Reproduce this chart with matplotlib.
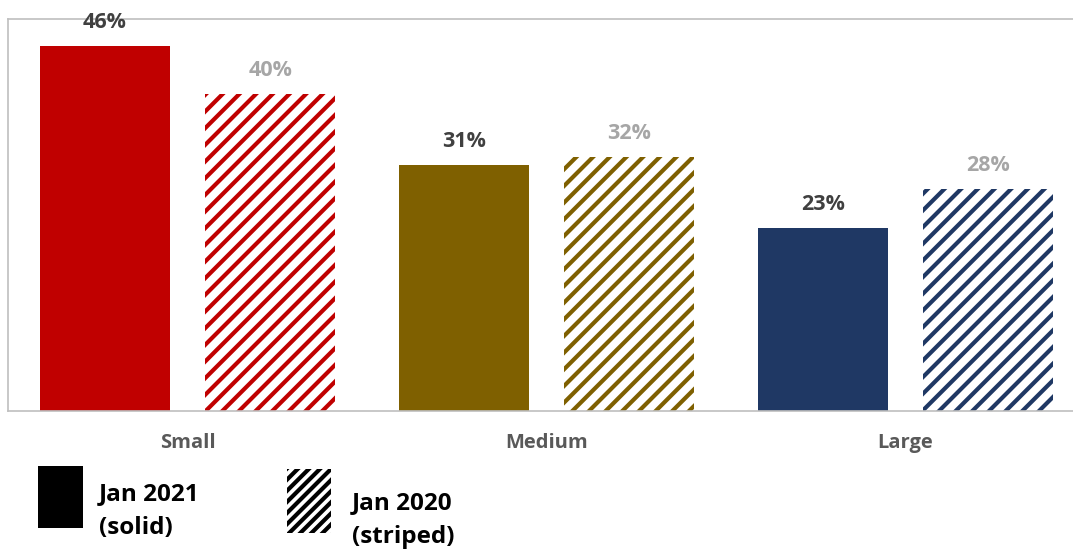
import matplotlib.pyplot as plt
import matplotlib.patches as mpatches
import numpy as np

plt.rcParams['font.family'] = ['Open Sans', 'DejaVu Sans']
plt.rcParams['hatch.linewidth'] = 3.0

# Share of companies by size, two survey waves
sizes = ["Small", "Medium", "Large"]
jan_2021 = [46, 31, 23]
jan_2020 = [40, 32, 28]
colors = ["#C00000", "#7F6000", "#1F3864"]

fig = plt.figure(figsize=(10.73, 5.5), dpi=100)
ax = fig.add_axes([8 / 1073, 139 / 550, 1077 / 1073, 392 / 550])

x = np.arange(len(sizes))
off = 0.23
w = 0.36

# solid bars = 2021
ax.bar(x - off, jan_2021, width=w, color=colors, linewidth=0)
# striped bars = 2020
for xi, v, c in zip(x, jan_2020, colors):
    ax.bar(xi + off, v, width=w, facecolor="white", edgecolor=c,
           hatch="//", linewidth=0)

for xi, v in zip(x, jan_2021):
    ax.annotate(f"{v}%", (xi - off, v), xytext=(0, 13), textcoords="offset points",
                ha="center", va="baseline", fontsize=15.5, fontweight="bold",
                color="#404040")
for xi, v in zip(x, jan_2020):
    ax.annotate(f"{v}%", (xi + off, v), xytext=(0, 13), textcoords="offset points",
                ha="center", va="baseline", fontsize=15.5, fontweight="bold",
                color="#A6A6A6")

ax.set_xlim(-0.5, 2.5)
ax.set_ylim(0, 49.4)
ax.set_yticks([])
ax.set_xticks(x)
ax.set_xticklabels(sizes, fontsize=14.5, fontweight="bold", color="#595959")
ax.tick_params(axis="x", length=0, pad=16)
for s in ax.spines.values():
    s.set_color("#BFBFBF")
    s.set_linewidth(1.2)

# legend swatches drawn in figure pixels
def px(xp, yp):
    return xp / 1073, 1 - yp / 550

fig.patches.append(mpatches.Rectangle(px(38, 528), 45 / 1073, 62 / 550,
                                      transform=fig.transFigure, facecolor="black",
                                      linewidth=0))
fig.patches.append(mpatches.Rectangle(px(287, 533), 44 / 1073, 64 / 550,
                                      transform=fig.transFigure, facecolor="white",
                                      edgecolor="black", hatch="///", linewidth=0))
fig.text(*px(99, 511), "Jan 2021\n(solid)", fontsize=17.5, fontweight="bold",
         va="center", ha="left", linespacing=1.6)
fig.text(*px(352, 520), "Jan 2020\n(striped)", fontsize=17.5, fontweight="bold",
         va="center", ha="left", linespacing=1.6)

fig.savefig("out.png", dpi=100)
